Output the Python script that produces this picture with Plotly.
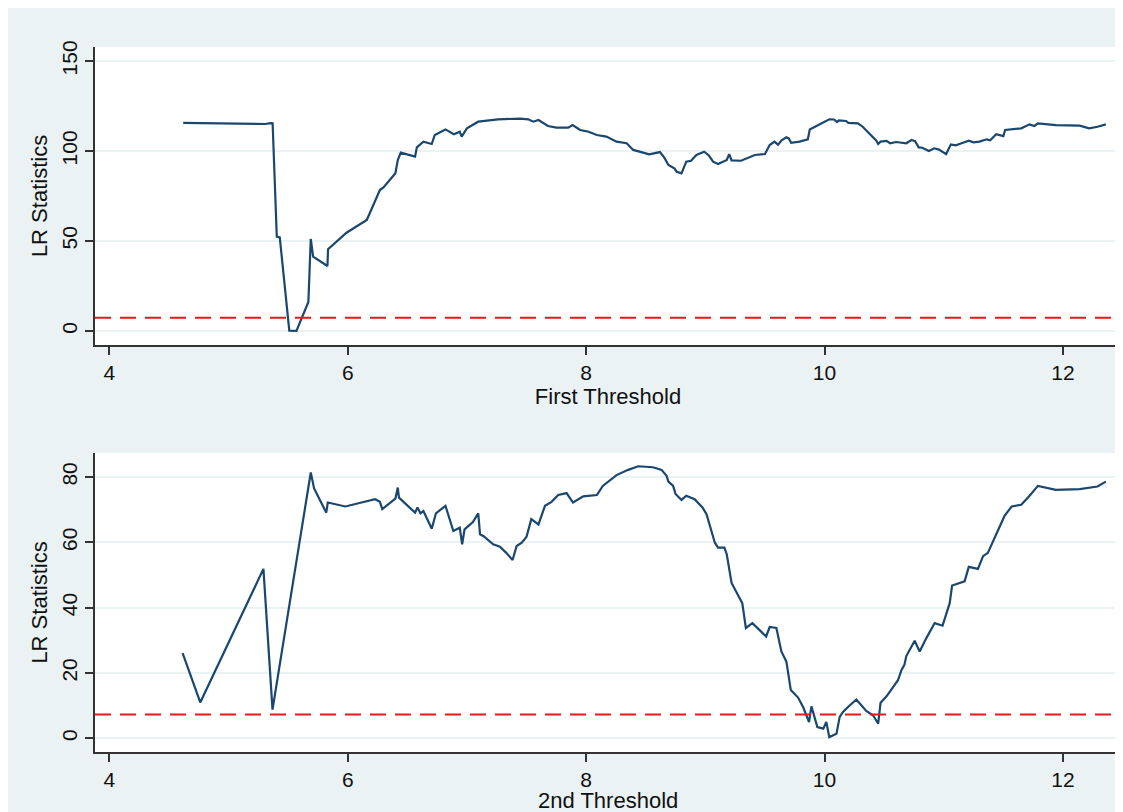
import plotly.graph_objects as go
from plotly.subplots import make_subplots

# First threshold LR statistics
th1_x = [4.62, 5.31, 5.35, 5.37, 5.405, 5.43, 5.51, 5.57, 5.67, 5.69, 5.71, 5.83, 5.835,
         5.99, 6.16, 6.27, 6.30, 6.40, 6.42, 6.445, 6.565, 6.58, 6.635, 6.705, 6.73, 6.82,
         6.89, 6.94, 6.956, 7.0, 7.095, 7.26, 7.445, 7.515, 7.556, 7.60, 7.68, 7.75, 7.85,
         7.886, 7.95, 8.02, 8.09, 8.17, 8.255, 8.34, 8.395, 8.48, 8.53, 8.62, 8.66, 8.69,
         8.74, 8.76, 8.80, 8.84, 8.88, 8.925, 8.99, 9.03, 9.065, 9.107, 9.18, 9.20, 9.22,
         9.30, 9.345, 9.415, 9.50, 9.54, 9.58, 9.61, 9.64, 9.68, 9.70, 9.72, 9.79, 9.86,
         9.876, 9.96, 10.04, 10.08, 10.105, 10.12, 10.18, 10.2, 10.28, 10.32, 10.38, 10.435,
         10.45, 10.47, 10.52, 10.55, 10.6, 10.65, 10.686, 10.73, 10.76, 10.79, 10.82, 10.875,
         10.92, 10.96, 11.0, 11.02, 11.06, 11.10, 11.15, 11.21, 11.25, 11.30, 11.36, 11.39,
         11.44, 11.50, 11.515, 11.58, 11.65, 11.72, 11.76, 11.79, 11.94, 12.14, 12.22,
         12.29, 12.36]
th1_lr = [115.6, 115.0, 115.5, 115.4, 52.4, 52.0, 0.2, 0.0, 16.1, 51.1, 41.3, 36.1, 45.4,
          54.6, 61.7, 78.3, 79.8, 87.6, 95.0, 99.1, 96.9, 102.0, 105.2, 103.9, 108.9, 112.0,
          109.3, 110.7, 108.0, 112.6, 116.3, 117.6, 118.0, 117.6, 116.3, 117.2, 113.9, 113.0, 113.0,
          114.4, 111.7, 110.7, 108.9, 108.0, 105.2, 104.3, 100.6, 99.1, 98.1, 99.4, 95.9, 92.2,
          90.4, 88.5, 87.6, 94.1, 94.6, 97.8, 99.6, 97.5, 94.1, 92.8, 95.0, 98.3, 94.8,
          94.6, 95.9, 97.8, 98.3, 103.3, 105.2, 103.5, 106.0, 107.6, 107.0, 104.6, 105.2, 106.5,
          112.0, 114.8, 117.6, 117.5, 116.1, 117.0, 116.7, 115.6, 115.4, 113.5, 109.3, 105.7,
          103.9, 105.2, 105.6, 104.3, 105.0, 104.4, 104.3, 106.1, 105.5, 102.0, 101.8, 100.0,
          101.5, 100.8, 99.2, 98.3, 103.7, 103.2, 104.3, 105.7, 104.8, 105.2, 106.5, 106.0,
          109.3, 108.3, 111.7, 112.2, 112.6, 114.8, 113.9, 115.4, 114.4, 114.1, 112.6,
          113.5, 114.8]

# Second threshold LR statistics
th2_x = [4.615, 4.763, 5.293, 5.369, 5.69, 5.718, 5.82, 5.833, 5.98, 6.16, 6.23, 6.27, 6.29,
         6.40, 6.42, 6.43, 6.565, 6.585, 6.61, 6.635, 6.705, 6.74, 6.82, 6.886, 6.94, 6.96,
         6.98, 7.05, 7.095, 7.11, 7.14, 7.22, 7.277, 7.33, 7.383, 7.417, 7.46, 7.50, 7.54,
         7.60, 7.655, 7.71, 7.766, 7.836, 7.89, 7.976, 8.09, 8.14, 8.20, 8.255, 8.353, 8.437,
         8.56, 8.633, 8.675, 8.69, 8.73, 8.75, 8.80, 8.84, 8.91, 8.976, 9.01, 9.04, 9.08,
         9.107, 9.16, 9.18, 9.22, 9.31, 9.34, 9.395, 9.51, 9.54, 9.596, 9.638, 9.68, 9.717,
         9.778, 9.82, 9.87, 9.89, 9.94, 9.99, 10.015, 10.04, 10.10, 10.127, 10.155, 10.197,
         10.267, 10.35, 10.407, 10.45, 10.47, 10.52, 10.575, 10.616, 10.645, 10.67, 10.686,
         10.756, 10.798, 10.854, 10.924, 10.99, 11.05, 11.07, 11.175, 11.21, 11.287, 11.33,
         11.37, 11.44, 11.51, 11.57, 11.65, 11.72, 11.79, 11.94, 12.14, 12.29, 12.36]
th2_lr = [26.1, 11.0, 51.9, 8.8, 81.4, 76.5, 69.1, 72.2, 71.0, 72.7, 73.2, 72.4, 70.2,
          73.4, 76.8, 73.7, 69.1, 70.7, 68.9, 69.6, 64.2, 68.9, 71.2, 63.5, 64.5, 59.4,
          64.0, 66.2, 68.9, 62.5, 61.9, 59.4, 58.7, 56.8, 54.6, 58.9, 59.9, 61.7, 67.1,
          65.5, 71.2, 72.4, 74.5, 75.1, 72.2, 74.1, 74.5, 77.3, 78.9, 80.6, 82.2, 83.3,
          83.0, 82.2, 80.4, 78.6, 77.3, 74.8, 73.0, 74.3, 73.2, 70.7, 68.6, 65.0, 59.9,
          58.4, 58.4, 56.3, 47.6, 41.4, 33.8, 35.3, 31.2, 34.1, 33.8, 26.6, 23.5, 14.8,
          12.5, 9.6, 5.0, 9.8, 3.5, 3.0, 5.0, 0.4, 1.4, 6.6, 8.1, 9.6,
          11.9, 8.4, 7.1, 4.5, 10.9, 12.9, 15.8, 17.8, 20.9, 22.5, 25.2,
          29.9, 26.6, 30.7, 35.3, 34.5, 41.4, 46.8, 48.1, 52.5, 51.9, 55.8,
          56.8, 62.5, 68.1, 71.0, 71.5, 74.3, 77.3, 76.1, 76.3, 77.1, 78.6]

crit_value = 7.35
y1_ticks = [0, 50, 100, 150]
y2_ticks = [0, 20, 40, 60, 80]
x_ticks = [4, 6, 8, 10, 12]
x_titles = ["First Threshold", "2nd Threshold"]
y_title = "LR Statistics"

BG = "#eaf2f3"
NAVY = "#1a476f"
RED = "#e31a1c"
AXC = "#333333"
TXT = "#111111"
FONT = "Liberation Sans, Arial, sans-serif"

fig = make_subplots(rows=2, cols=1, vertical_spacing=0.1532)

fig.add_trace(go.Scatter(x=th1_x, y=th1_lr, mode="lines",
                         line=dict(color=NAVY, width=2.2), showlegend=False), row=1, col=1)
fig.add_trace(go.Scatter(x=th2_x, y=th2_lr, mode="lines",
                         line=dict(color=NAVY, width=2.2), showlegend=False), row=2, col=1)

for xa, ya in [("x", "y"), ("x2", "y2")]:
    fig.add_shape(type="line", xref=f"{xa} domain", yref=ya, x0=0, x1=1,
                  y0=crit_value, y1=crit_value,
                  line=dict(color=RED, width=2, dash="16px,9px"))

axis_common = dict(showline=True, linecolor=AXC, linewidth=1.5, ticks="outside",
                   ticklen=8, tickwidth=1.5, tickcolor=AXC, zeroline=False,
                   tickfont=dict(size=21, color=TXT, family=FONT))

fig.update_xaxes(range=[3.880, 12.487], tickvals=x_ticks, showgrid=False, **axis_common)
fig.update_yaxes(showgrid=True, gridcolor=BG, gridwidth=1.5, tickangle=-90, **axis_common)

title_font = dict(size=22, color=TXT, family=FONT)
fig.update_xaxes(title=dict(text=x_titles[0], font=title_font, standoff=2), row=1, col=1)
fig.update_yaxes(range=[-7.8, 157.8], tickvals=y1_ticks,
                 title=dict(text=y_title, font=title_font, standoff=4), row=1, col=1)
fig.update_yaxes(range=[-4.16, 87.36], tickvals=y2_ticks,
                 title=dict(text=y_title, font=title_font, standoff=4), row=2, col=1)

# bottom x-axis title placed as an annotation (sits partly below the picture edge)
fig.add_annotation(text=x_titles[1], xref="paper", yref="paper", x=0.5, y=-0.0695,
                   xanchor="center", yanchor="middle", showarrow=False, font=title_font)

fig.update_layout(yaxis=dict(domain=[0.5773, 1.0]), yaxis2=dict(domain=[0.0, 0.4241]))

fig.update_layout(width=1115, height=804, paper_bgcolor=BG, plot_bgcolor="white",
                  margin=dict(l=87, r=2, t=39, b=60),
                  font=dict(family=FONT, color=TXT))

fig.write_html("out.html")
